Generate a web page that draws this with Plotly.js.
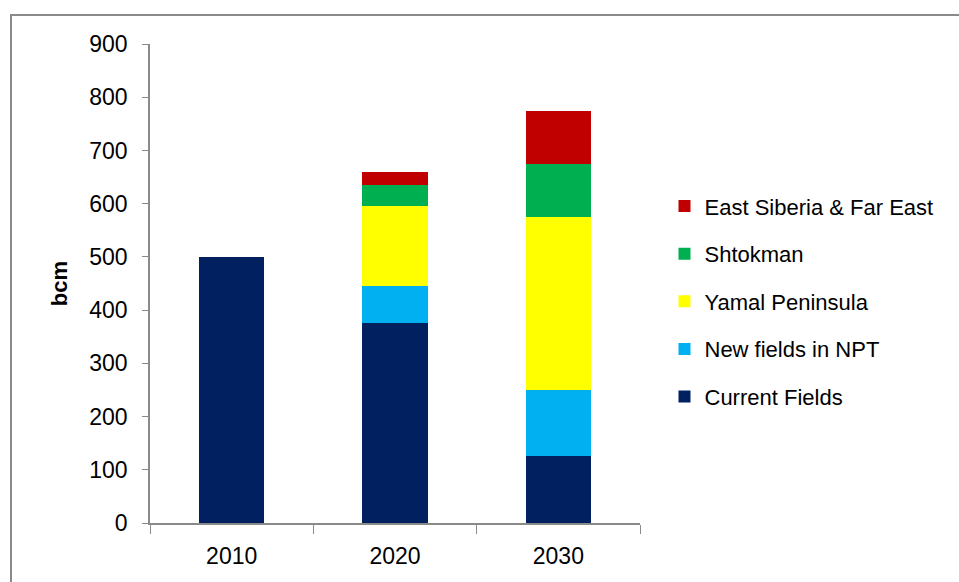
<!DOCTYPE html>
<html><head><meta charset="utf-8">
<script src="https://cdn.plot.ly/plotly-3.0.1.min.js"></script>
<style>body{margin:0;background:#fff;overflow:hidden}#frame{position:absolute;left:10px;top:14px;width:1200px;height:1200px;border-left:2px solid #8a8a8a;border-top:2px solid #8a8a8a;pointer-events:none}</style>
</head><body>
<div id="chart" style="width:959px;height:582px"></div>
<div id="frame"></div>
<script>
const years = ['2010','2020','2030'];
const seriesNames = ['Current Fields','New fields in NPT','Yamal Peninsula','Shtokman','East Siberia & Far East'];
const currentFields = [500, 375, 125];
const newFieldsNPT = [0, 70, 125];
const yamal = [0, 150, 325];
const shtokman = [0, 40, 100];
const eastSiberia = [0, 25, 100];
const colors = ['#002060','#00B0F0','#FFFF00','#00B050','#C00000'];
const allValues = [currentFields,newFieldsNPT,yamal,shtokman,eastSiberia];
const font = "Liberation Sans, Arial, sans-serif";
const traces = allValues.map((v,i)=>({
  type:'bar', x:years, y:v, name:seriesNames[i], legendgroup:'g'+i, legendrank:10-i,
  marker:{color:colors[i]}, hoverinfo:'x+y+name'
}));
Plotly.newPlot('chart', traces, {
  width:959, height:582, barmode:'stack', bargap:0.6,
  margin:{l:150,r:319,t:44,b:59},
  paper_bgcolor:'#fff', plot_bgcolor:'#fff',
  font:{family:font,size:23,color:'#000'},
  showlegend:true,
  legend:{x:1.05,y:0.705,yanchor:'top',xanchor:'left',traceorder:'grouped',tracegroupgap:16,font:{size:22},itemwidth:30},
  xaxis:{type:'category',showline:true,linecolor:'#8a8a8a',linewidth:1.5,ticks:'outside',ticklen:9,tickcolor:'#8a8a8a',tickson:'boundaries',ticklabelstandoff:12,showgrid:false,zeroline:false},
  yaxis:{range:[0,900],dtick:100,showline:true,linecolor:'#8a8a8a',linewidth:1.5,ticks:'outside',ticklen:6,tickcolor:'#8a8a8a',ticklabelstandoff:10,showgrid:false,zeroline:false,
    title:{text:'<b>bcm</b>',font:{size:22},standoff:16}}
}, {displayModeBar:false});
</script>
</body></html>
